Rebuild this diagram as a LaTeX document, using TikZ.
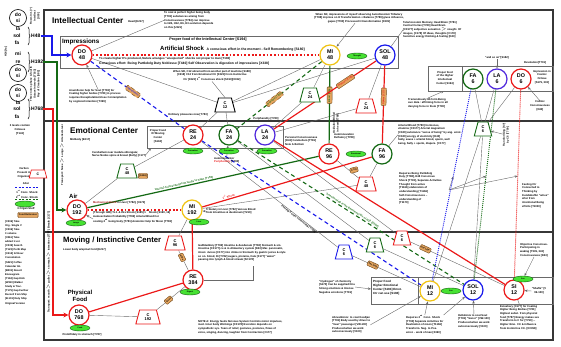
\documentclass[tikz,border=0pt]{standalone}
\usepackage{fontspec}
\setmainfont{Liberation Sans}
\usetikzlibrary{arrows.meta,shapes.geometric,decorations.pathreplacing,backgrounds,calc}
\definecolor{redc}{RGB}{235,25,25}
\definecolor{greenc}{RGB}{20,105,20}
\definecolor{bluec}{RGB}{25,25,235}
\definecolor{violc}{RGB}{80,40,220}
\definecolor{yelc}{RGB}{240,195,20}
\definecolor{tanf}{RGB}{228,165,95}
\definecolor{tand}{RGB}{110,70,25}
\definecolor{gelf}{RGB}{70,225,50}
\definecolor{geld}{RGB}{20,90,20}
\definecolor{frmc}{RGB}{55,55,55}
\definecolor{lnc}{RGB}{105,105,105}
\newcommand{\tny}{\fontsize{2.7}{3.7}\selectfont\bfseries}
\begin{document}
\begin{tikzpicture}[x=1pt,y=-1pt,
 nc/.style={circle, draw, line width=1.2pt, fill=white, minimum size=20pt, inner sep=0pt, align=center, font=\fontsize{5.4}{6.2}\selectfont\bfseries},
 sc/.style={circle, draw, line width=0.6pt, minimum size=17pt, inner sep=0pt, align=center, font=\fontsize{5}{5.6}\selectfont\bfseries},
 tx/.style={font=\tny, align=left, inner sep=0pt},
 txc/.style={font=\tny, align=center, inner sep=0pt},
 ctr/.style={trapezium, draw, line width=0.9pt, fill=white, trapezium left angle=75, trapezium right angle=75, minimum height=14pt, inner xsep=1.3pt, inner ysep=0.3pt, align=center, font=\fontsize{4}{4.3}\selectfont\bfseries},
 tanb/.style={draw=tand, fill=tanf, line width=0.4pt, rounded corners=0.8pt, inner xsep=1pt, inner ysep=0.8pt, minimum height=5pt, font=\fontsize{2.4}{2.6}\selectfont\bfseries},
 gel/.style={ellipse, draw=geld, fill=gelf, line width=0.4pt, minimum width=20pt, minimum height=6pt, inner sep=0pt, font=\fontsize{2}{2.2}\selectfont\bfseries},
 gl/.style={draw=lnc, line width=0.4pt},
 frm/.style={draw=frmc, line width=1.6pt},
 ar/.style={-{Stealth[length=3pt,width=2.4pt]}},
 bar/.style={-{Stealth[length=5pt,width=5pt]}},
 lbl/.style={font=\fontsize{5}{5.5}\selectfont\bfseries, inner sep=0pt},
 ttl/.style={font=\fontsize{8.2}{9}\selectfont\bfseries, inner sep=0pt, anchor=west},
 rdot/.style={redc, line width=1.8pt, dash pattern=on 1.8pt off 1.9pt},
 bdash/.style={bluec, line width=1.1pt, dash pattern=on 4pt off 3pt},
 gdash/.style={greenc, line width=1.1pt, dash pattern=on 4pt off 3pt},
 rline/.style={redc, line width=1.2pt},
 gline/.style={greenc, line width=1.2pt},
 pbox/.style={draw=lnc, line width=0.6pt}
]
\path[use as bounding box] (0,0) rectangle (561,347);

% ================= left column =================
\node[sc] (c1) at (18,18) {do\\si};
\node[lbl] (la1) at (18,29) {la};
\node[lbl] (sol1) at (17,36) {sol};
\node[lbl] (fa1) at (17,43) {fa};
\node[lbl, anchor=west] (h48) at (31,36) {H48};
\node[tx, rotate=90, align=center] (v1) at (35,16) {Rows Int. (?)\\Intellect\\{}[S93]};
\node[tx, rotate=90] (v0) at (6,52) {H24 [fa]};
\node[lbl] (mi2) at (18,54) {mi};
\node[lbl] (re2) at (18,62) {re};
\node[sc] (c2) at (18,73) {do\\si};
\node[lbl, anchor=west] (h192) at (31,62) {H192};
\node[tx, rotate=90, align=center] (v2) at (35,84) {Three notes phase \& fourth\\Octave Intervals [T163]\\Ray of Creation [S82]};
\node[sc] (c3) at (18,93) {do\\si};
\node[lbl] (la3) at (18,103) {la};
\node[lbl] (sol3) at (17,109) {sol};
\node[lbl, anchor=west] (h768) at (31,109) {H768};
\node[lbl] (fa3) at (17,117) {fa};
\draw[decorate, decoration={brace, amplitude=2pt}, line width=0.5pt] (28,27) -- (28,45);
\draw[decorate, decoration={brace, amplitude=2pt}, line width=0.5pt] (28,52) -- (28,72);
\draw[decorate, decoration={brace, amplitude=2pt}, line width=0.5pt] (28,99) -- (28,119);
\node[txc] (lev) at (20,130) {3 levels contain\\Octaves\\{}[T143]};
\node[txc] (carb) at (24,173) {Carbon\\Present in\\Organism};
\node[ctr, draw=redc, minimum height=8pt, line width=0.7pt, font=\fontsize{3.5}{4}\selectfont\bfseries] (cc) at (38,174) {C};
\node[txc] (alt) at (26,184) {Alter};
\draw[bluec, line width=0.8pt, dash pattern=on 2pt off 1.5pt] (15,187.5) -- (38,187.5);
\node[txc] (c1s) at (27,191.5) {1\textsuperscript{st} Conc. Shock};
\node[txc] (c2s) at (27,196.5) {2\textsuperscript{nd} Conc. Shock};
\draw[greenc, line width=0.8pt, dash pattern=on 2pt off 1.5pt] (15,199.5) -- (38,199.5);
\node[gel] (gl0) at (25,204) {};
\node[txc] (org) at (26,209) {3 Organ Stuff};
\node[tanb] (tl) at (28,215) {Food Reference};
\node[tx, anchor=north west, font=\fontsize{2.6}{4.1}\selectfont\bfseries] (refs) at (5,220) {{}[C306] Take\\Org. Single V\\{}[C306] Take\\3 volume\\{}[X361] Take\\added 1 vol.\\{}[C339] Search\\{}[T123] Perth Map\\{}[C412] 12 Hour\\Connotation\\{}[S321] Coffee\\Calendar Int.\\{}[B301] Desert\\Enneagram\\{}[T162] Gap Kick\\{}[W310] Walker\\Study \& Trac.\\{}[T175] Gap Further\\Record from Ship\\{}[B.101] Duty Ship\\Original Version};

% ================= section titles =================
\node[ttl] (tint) at (52,21) {Intellectual Center};
\node[tx, anchor=west] (thead) at (128,22) {Head [E217]};
\node[ttl] (temo) at (70,131) {Emotional Center};
\node[tx, anchor=west] (tmid) at (70,139.5) {Midbody [E217]};
\node[ttl, font=\fontsize{7.7}{8.5}\selectfont\bfseries] (tmov) at (63,241) {Moving / Instinctive Center};
\node[tx, anchor=west] (tlow) at (63,249.5) {Lower body w/spinal Cord [E217]};
\node[font=\fontsize{6.3}{7}\selectfont\bfseries, anchor=west, inner sep=0pt] (timp) at (62,42) {Impressions};
\node[font=\fontsize{6}{7}\selectfont\bfseries, anchor=west, inner sep=0pt] (tair) at (69,196) {Air};
\node[font=\fontsize{6}{7.6}\selectfont\bfseries, align=center, inner sep=0pt] (tphy) at (80,296) {Physical\\Food};

% ================= octave notes =================
\node[nc, draw=redc] (do48) at (82,55) {DO\\48};
\node[nc, draw=yelc] (mi48) at (330,55) {MI\\48};
\node[nc, draw=bluec] (sol48) at (385,55) {SOL\\48};
\node[nc, draw=greenc] (fa6) at (473,79) {FA\\6};
\node[nc, draw=violc] (la6) at (497,79) {LA\\6};
\node[nc, draw=redc] (do6) at (521,79) {DO\\6};
\node[nc, draw=redc] (re24) at (193,135) {RE\\24};
\node[nc, draw=greenc] (fa24) at (229,135) {FA\\24};
\node[nc, draw=violc] (la24) at (265,135) {LA\\24};
\node[nc, draw=redc] (re96) at (329,154) {RE\\96};
\node[nc, draw=greenc] (fa96) at (382,154) {FA\\96};
\node[nc, draw=redc] (do192) at (77,210) {DO\\192};
\node[nc, draw=yelc] (mi192) at (192,210) {MI\\192};
\node[nc, draw=redc] (re384) at (193,280) {RE\\384};
\node[nc, draw=redc] (do768) at (79,315) {DO\\768};
\node[nc, draw=yelc] (mi12) at (430,291) {MI\\12};
\node[nc, draw=bluec] (sol12) at (473,290) {SOL\\12};
\node[nc, draw=redc] (si12) at (514,290) {SI\\12};

% green ellipses
\node[gel] (e1) at (357,56) {Thought};
\node[gel] (e2) at (193,151) {Sensation};
\node[gel] (e3) at (229,151) {Sensation};
\node[gel] (e4) at (267,151) {Sensation};
\node[gel] (e5) at (76,223) {Lungs};
\node[gel] (e6) at (199,222) {Liver};
\node[gel] (e7) at (356,154) {Emotional};
\node[gel] (e8) at (190,292) {Digest};
\node[gel] (e9) at (80,328) {Food};
\node[gel] (e10) at (451,291) {Sex};
\node[gel] (e11) at (523,279) {Sex};

% carbon trapezoids
\node[ctr, draw=black] (c12) at (225,105) {C\\12};
\node[ctr, draw=greenc] (c24g) at (310,95) {C\\24};
\node[ctr, draw=redc] (c24r) at (366,106) {C\\24};
\node[ctr, draw=greenc] (c6g) at (483,129) {C\\6};
\node[ctr, draw=greenc] (c48g) at (127,171) {C\\48};
\node[ctr, draw=redc] (c48r) at (366,184) {C\\48};
\node[ctr, draw=redc] (c96) at (175,243) {C\\96};
\node[ctr, draw=redc] (c192) at (148,317) {C\\192};
\node[ctr, draw=bluec] (c6b) at (344,252) {C\\6};
\node[ctr, draw=greenc] (c6g2) at (375,245) {C\\6};
\node[ctr, draw=redc] (c6r) at (402,238) {C\\6};

% ================= texts: intellectual =================
\node[font=\fontsize{3.7}{4}\selectfont\bfseries, inner sep=0pt] (pfi) at (208,39.5) {Proper food of the Intellectual Center [S194]};
\node[anchor=west, inner sep=0pt, font=\bfseries] (artsh) at (160,48.5) {{\fontsize{6}{7}\selectfont Artificial Shock} {\fontsize{3.4}{4}\selectfont A conscious effort in the moment - Self Remembering [S180]}};
\node[tx, anchor=west, font=\fontsize{2.9}{3.4}\selectfont\bfseries] (tocr) at (99,59) {To create higher H's produced, Nature arranges ``unexpected'' shocks not proper to man [T183]};
\node[tx, anchor=west, font=\fontsize{3.3}{3.8}\selectfont\bfseries] (consc) at (99,64) {Conscious effort: Being Partkdolg Duty Noblesse [T440] Self Observation is digestion of impressions [X338]};
\node[tx, anchor=north west] (tocoat) at (164,11.5) {To coat \& perfect higher being body\\{}[T781] substances arising from\\Consciousness [T784] can improve\\to H24, H12, H6, H3 evolution depends\\on this [U321]};
\node[txc, anchor=north] (whenimp) at (359,13) {When SR, impressions of myself observing Autodiscomm Tributary\\{}[T788] improve on H Transformation + Balance [T789] gives influence,\\gapes [T790] Processed H transformation [X339]};
\node[tx, anchor=north west] (tetart) at (403,21) {Tetartocosmic Mentary, Head Brain [T781]\\Central Cortex [T780] Head Brain\\{}[CF177] subjective sensation $>$ nought. Of\\images, [C178] Of ideas, thoughts [C178]\\Sensitive energy thinking \& feeling [D43]};
\node[txc, anchor=north] (whensr) at (212,70) {When SR, C12 attracted from another part of machine [S188]\\{}[F218] C12 from Emotional Ctr [F223] From Instinctive\\Ctr [F223] 1\textsuperscript{st} Conscious shock [S193][X332]};
\node[tx, anchor=north west] (anum) at (69,89) {Anumfision help for Soul [T783] for\\Coating higher bodies [T781] in process\\requires Recapitulation/close Contemplation\\by cognized intention [T399]};
\node[tx, anchor=north west] (ordp) at (168,113) {Ordinary pleasures now [T783]};
\node[tx] (andso) at (497,58) {``and so on''[S182]};
\node[tx] (revol) at (535,63) {Revolution[T701]};
\node[txc] (pfhi) at (445,78) {Proper food\\of the Higher\\Intellectual\\Center [S194]};
\node[txc] (impco) at (542,77) {Impression in\\Cosmic\\Octave\\{}[S179, 333]};
\node[txc] (cosmic) at (540,106) {Cosmic\\Consciousness\\{}[D43]};
\node[tx, anchor=north west] (tremd) at (408,98) {Tremendously H6 form Being\\sun data : affirming force in all\\denying force in them [T790]};

% ================= texts: emotional =================
\node[txc] (pfm) at (158,136) {Proper Food\\Of Moving\\Center\\{}[S194]};
\node[tx] (perif) at (266,118.5) {Peripherality [T780]};
\node[tx, anchor=north west] (autoin) at (214,157) {Autoinnoventor\\{\color{redc}Peripherality} [T780]};
\node[tx, anchor=north west] (perscon) at (285,136) {Personal Consciousness\\{}[D43] Cerebellum [T781]\\Note A Bottom};
\node[tx, anchor=north west] (defl) at (334,133) {Autoinnovation\\Deflatory [T789]};
\node[tx, rotate=90, align=center] (oxid) at (336,123) {Oxidation Blood\\in heart [T788]};
\node[tx, anchor=north west] (arter) at (398,124) {Arterial Blood [T780] hormones,\\vitamins [CF177] Arterial magnetism\\{}[C180] substance ``sense of being'' by ang. emot.\\{}[C180] energy of electricity [D43]\\Sally, saves + arterial blood, sperm, well\\being, Sally + sperm, diapers. [C177]};
\node[tx, anchor=north west] (requ) at (399,172) {Requires Being Partkdolg\\Duty [T788], H48 Conscious\\Shock [T793], Separate Activities\\Thought from active\\{}[T1166] elaboration of\\understanding [T1166]\\Self-Consciousness --\\understanding of\\{}[T1170]};
\node[tx, anchor=north west] (feel) at (522,183) {Feeling Ctr\\Connected to\\Thinking by\\Kundabuffer ``wires''\\after from\\intentional Being\\efforts [T1030]};
\node[tx, rotate=90, align=center] (transf) at (506,135) {Transforming [S?]\\by C6 [T790]};
\node[tx, anchor=north west] (cereb) at (92,151) {Cerebellum near medula oblongata;\\Nerve Nodes spine \& breast (Belly) [C177]};
\node[tanb] (t6) at (143,176) {[S194]};
\node[tanb, rotate=15] (t7) at (354,170) {C Ctr};
\node[tx, anchor=west] (mech) at (93,203) {{\color{redc!70!black}Mechanical Shock} in Liver [T782], [X173]};
\node[tx, anchor=west] (thru) at (93,212) {[Through H48] To 1 \& this Shock [S185] 1\textsuperscript{st} Shock [S190, 16]};
\node[tx, anchor=north west] (autoex) at (93,215) {Autoexcitation Probability [T782] Arterial Blood For\\coating 2\textsuperscript{nd} being body [T781] Anatomic help for Moon [T783]};
\node[tx, anchor=north west] (trib) at (206,208) {Tributary in Liver [T782] Venous Blood\\from Intestines \& duodenum [T210]};

% ================= texts: moving =================
\node[tx] (proto) at (82,335) {Protolfidary in stomach [T787]};
\node[tx, anchor=north west] (gall) at (198,244) {Gallbladdery [T782] Intestine \& duodenum [T782] Stomach \& sm.\\Intestine [CF177] cs \& m Alimentary system [D43] Mar. pancreatic,\\intest. Juices [C177] into chime in Stomach by gastric juices \& style\\so on. blood, Di [T782] sugars, proteins, Fats [F177] ``water''\\passing into lymph \& blood stream [SC178]};
\node[tx, anchor=north west] (notea) at (198,320) {NOTE A: Energy feeds Nervous System Controls motor impulses,\\med. Inner body Workings [CF178] Excretion depends on\\sympathetic sys. Tears of relief, gestures, postures, flows of\\voice, singing, dancing, laughter from Contraction [C177]};
\node[tx, anchor=north west] (hydro) at (319,280) {``Hydrogen'' of chemistry\\{}[S170] Can be supplied thru\\Strong emotions \& Intense\\Negative emotions [T719]};
\node[tx, anchor=north west, font=\fontsize{3}{4.2}\selectfont\bfseries] (pfhe) at (373,280) {Proper Food\\Higher Emotional\\Center [S194] Emot.\\Ctr can use [S194]};
\node[tx, anchor=north west] (abru) at (332,316) {Abrustdonis: to coat Kesdjan\\{}[T781] Body used by driver to\\``hear'' passenger [VW-100]\\Produced when we work\\subconsciously [V100]};
\node[tx, anchor=north west] (req2) at (406,315) {Requires 2\textsuperscript{nd} Conc. Shock\\{}[T793] Separate Activities for\\Realization of moon [T1166]\\Transform. Neg. to Pos.\\emot. - work of man [X360]};
\node[tx, anchor=north west] (helk) at (458,314) {Helkdonis to coat Soul\\{}[T781] ``Sonor'' [VW-100]\\Produced when we work\\subconsciously [V100]};
\node[tx, anchor=north west] (exio) at (500,305) {Exioehary [C177] for Coating\\Higher Being Bodies [T781]\\Highest subst. from physical\\food [T787] Energy makes sex\\Transform to C for [T790] ...\\Higher Emo. Ctr \& influence\\from Instinctive Ctr. [XC358]};
\node[txc] (shaft) at (539,291) {``Shafts'' [V\\99-100]};
\node[tx, anchor=north west] (objc) at (520,243) {Objective Conscious-\\Participating in\\waking [T339, 343]\\Consciousness [D43]};

% ================= vertical transport texts =================
\node[tx, rotate=90] (trair) at (62,155) {Transport: Nose $>$ Lungs $>$ Arteries/Liver};
\node[tx, rotate=90] (trfood) at (48.5,262) {Transport: mouth $>$ gullet $>$ stomach $>$ intestines [T787] Breath [C177]};

% ================= background: frame, boxes, lines =================
\begin{scope}[on background layer]
\draw[frm] (44,10) rectangle (553,340);
\draw[frm] (44,121) -- (553,121);
\draw[frm] (44,232) -- (553,232);
\draw[pbox] (60,36) rectangle (398,68);
\draw[pbox] (147,126) rectangle (283,148);
\draw[pbox] (428,66) rectangle (553,91);
\draw[pbox] (462,66) -- (462,91);
\draw[pbox] (371,277) rectangle (553,304);
\draw[pbox] (418,277) -- (418,304);

% gray connectors
\draw[gl] (do48) -- (tocoat.west);
\draw[gl] (do48) -- (c12);
\draw[gl] (mi48) -- (c12);
\draw[gl] (sol48) -- (c12);
\draw[gl] (whensr.south) -- (c12.north);
\draw[gl] (c12) -- (re24);
\draw[gl] (c12) -- (fa24);
\draw[gl] (mi48) -- (c24g);
\draw[gl] (c24g) -- (la24);
\draw[gl] (sol48) -- (c24r);
\draw[gl] (c24r) -- (la24);
\draw[gl] (re96) -- (c48r);
\draw[gl] (fa96) -- (c48r);
\draw[gl] (c48r) -- (mi192);
\draw[gl] (fa6) -- (c6g);
\draw[gl] (la6) -- (c6g);
\draw[gl] (do6) -- (c6g);
\draw[gl] (c6g) -- (mi12);
\draw[gl] (c6g) -- (sol12);
\draw[gl] (do192) -- (c48g);
\draw[gl] (c48g) -- (re24);
\draw[gl] (mi192) -- (c96);
\draw[gl] (c96) -- (re384) node[tanb, sloped, pos=0.35] (t8) {urine};
\draw[gl] (do768) -- (c192);
\draw[gl] (c192) -- (re384) node[tanb, sloped, pos=0.42] (t9) {feces};
\draw[gl] (re24) -- (c6b) node[tx, sloped, below=0.5pt, pos=0.72] (lb1) {Feeling Center connecting [T790]};
\draw[gl] (fa24) -- (c6g2);
\draw[gl] (la24) -- (c6r);
\draw[gl] (c6b) -- (mi12) node[tanb, sloped, pos=0.3] (t10) {Sat 1/48};
\draw[gl] (c6g2) -- (sol12);
\draw[gl] (c6r) -- (si12) node[tanb, sloped, pos=0.16] (t11) {Sat 1/24};
\draw[gl] (re384.east) -- (253,280) -- (253,266);
\draw[gl] (exio.north) -- (si12);

% arrows from notes
\draw[gl, ar] (anum.north) -- (do48);
\draw[gl, ar] (whenimp) -- (mi48);
\draw[gl] (tetart.west) -- (sol48);
\draw[gl, ar] (andso) -- (la6);
\draw[gl, ar] (cosmic.north) -- (do6);
\draw[gl, ar] (tremd.north) -- (444,91);
\draw[gl, ar] (transf) -- (c6g);
\draw[gl, ar] (cereb.east) -- (151,148);
\draw[gl, ar] (autoin.north) -- (fa24);
\draw[gl] (arter.west) -- (fa96);
\draw[gl, ar] (autoex.west) -- (do192);
\draw[gl, ar] (trib.west) -- (mi192);
\draw[gl, ar] (hydro.east) -- (371,289);
\draw[gl, ar] (abru.east) -- (mi12);
\draw[gl, ar] (req2.north) -- (mi12);
\draw[gl, ar] (req2.north east) -- (sol12);
\draw[gl, ar] (helk.north) -- (sol12);
\draw[gl, ar] (shaft.west) -- (si12);
\draw[gl, ar] (objc.south) -- (e11);
\coordinate (rq) at (449,190);
\coordinate (pb) at ($(fa6)!0.46!(mi12)$);
\coordinate (pg) at ($(la6)!0.46!(sol12)$);
\coordinate (pr) at ($(do6)!0.46!(si12)$);
\draw[gl, ar] (rq) -- (pb);
\draw[gl, ar] (rq) -- (pg);
\draw[gl, ar] (rq) -- (pr);

% transport lines from the scales
\draw[bluec, line width=1.8pt, bar] (h48.east) -| (52,55) -- (do48.west);
\draw[greenc, line width=1.8pt, bar] (h192.east) -| (57,210) -- (do192.west);
\draw[redc, line width=1.8pt, bar] (h768.east) -| (53,315) -- (do768.west);

% octave lines
\draw[rdot] (do48) -- (mi48);
\draw[rdot] (do192) -- (mi192);
\draw[bdash] (do48) -- (re24) node[tanb, sloped, pos=0.45] (t1) {Impressions};
\draw[bdash] (re24) -- (mi12);
\draw[gline] (do192) -- (re96) node[tx, sloped, above=0.6pt, pos=0.42] (lb3) {Internal Connecting from lungs to heart [T782]};
\draw[gline] (re96) -- (mi48) node[tanb, sloped, pos=0.62] (t3) {Blood [T788]};
\draw[gdash] (mi48) -- (fa24) node[tanb, sloped, pos=0.56] (t2) {Ordinary [T783]};
\draw[gdash] (fa24) -- (sol12) node[tx, sloped, above=0.6pt, pos=0.5] (lb2) {Transforming in the Emotional Ctr of H12 [S194]};
\draw[rline] (do768) -- (re384);
\draw[rline] (re384) -- (mi192);
\draw[rline] (mi192) -- (fa96) node[tx, sloped, above=0.6pt, pos=0.16] (lb4) {1\textsuperscript{st} Shock};
\draw[rline] (fa96) -- (sol48) node[tanb, sloped, pos=0.6] (t5) {Sperm [C177]};
\draw[rline] (sol48) -- (la24) node[tanb, sloped, pos=0.3] (t4) {Ordinary [T783]};
\draw[rline] (la24) -- (si12);
\draw[bluec, line width=0.9pt, dash pattern=on 1pt off 1pt] (fa6) -- (mi12);
\draw[greenc, line width=0.9pt, dash pattern=on 1pt off 1pt] (la6) -- (sol12);
\draw[redc, line width=0.9pt, dash pattern=on 1pt off 1pt] (do6) -- (si12);
\end{scope}
\end{tikzpicture}
\end{document}
